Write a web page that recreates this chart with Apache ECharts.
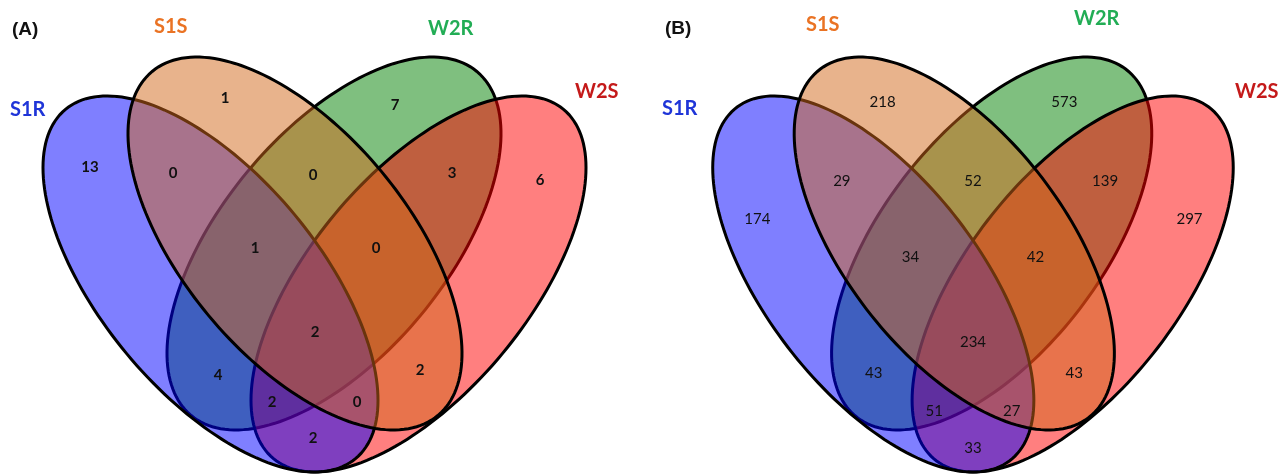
<!DOCTYPE html>
<html>
<head>
<meta charset="utf-8">
<script src="https://cdn.jsdelivr.net/npm/echarts@6/dist/echarts.min.js"></script>
<style>html,body{margin:0;padding:0;background:#fff}#c{width:1285px;height:475px}</style>
</head>
<body>
<div id="c"></div>
<script>
// ---- data ----
const setNames = ['S1R', 'S1S', 'W2R', 'W2S'];
const regions = ['S1R', 'S1S', 'W2R', 'W2S', 'S1R∩S1S', 'S1S∩W2R', 'W2R∩W2S',
  'S1R∩S1S∩W2R', 'S1S∩W2R∩W2S', 'S1R∩S1S∩W2R∩W2S', 'S1R∩W2R', 'S1S∩W2S',
  'S1R∩W2R∩W2S', 'S1R∩S1S∩W2S', 'S1R∩W2S'];
const countsA = [13, 1, 7, 6, 0, 0, 3, 1, 0, 2, 4, 2, 2, 0, 2];
const countsB = [174, 218, 573, 297, 29, 52, 139, 34, 42, 234, 43, 43, 51, 27, 33];
const panelTags = ['(A)', '(B)'];

// ---- layout (panel units) ----
const labelPosA = [[90,167],[225,98],[395,105],[540,180],[173,173],[313,175],[452,173],
  [255,248],[376,248],[315,332],[218,375],[420,370],[272,402],[357,402],[313,438]];
const labelPosB = [[89.6,219],[220.2,102],[409.8,102],[540.4,219],[177.7,181],[314.5,181],[452.3,181],
  [249.2,257],[379.8,257],[314.5,342],[210.9,373],[420.2,373],[274.1,411],[354.9,411],[314.5,448]];
// ellipse geometry: cx, cy, semi-major, semi-minor, angle (deg, clockwise)
const ellipseGeom = {
  S1R: [210.5, 284, 227, 109, 50.3],
  S1S: [295, 243.5, 223.6, 112.5, 50.3],
  W2R: [334, 243.5, 223.6, 112.5, 129.7],
  W2S: [418.5, 284, 227, 109, 129.7]
};
const fills = {
  S1R: 'rgba(0,0,255,0.5)',
  S1S: 'rgba(209,103,25,0.5)',
  W2R: 'rgba(0,128,0,0.5)',
  W2S: 'rgba(255,0,0,0.5)'
};
const drawOrder = ['W2R', 'W2S', 'S1R', 'S1S'];
const labelColors = { S1R: '#1f35d8', S1S: '#ea7324', W2R: '#22ad55', W2S: '#c41a1a' };

const chart = echarts.init(document.getElementById('c'), null, { renderer: 'canvas' });

function ellipseSeries(gi) {
  return {
    type: 'custom', xAxisIndex: gi, yAxisIndex: gi, silent: true,
    data: drawOrder.map((n, i) => [i]),
    renderItem: function (params, api) {
      const name = drawOrder[params.dataIndex];
      const g = ellipseGeom[name];
      const th = g[4] * Math.PI / 180;
      const pts = [];
      for (let k = 0; k < 180; k++) {
        const t = k / 180 * Math.PI * 2;
        const x = g[0] + g[2] * Math.cos(t) * Math.cos(th) - g[3] * Math.sin(t) * Math.sin(th);
        const y = g[1] + g[2] * Math.cos(t) * Math.sin(th) + g[3] * Math.sin(t) * Math.cos(th);
        pts.push(api.coord([x, y]));
      }
      return {
        type: 'polygon', z2: params.dataIndex * 2,
        shape: { points: pts },
        style: { fill: fills[name], stroke: '#000', lineWidth: 3 }
      };
    }
  };
}
function countSeries(gi, pos, counts, bold) {
  return {
    type: 'custom', xAxisIndex: gi, yAxisIndex: gi, silent: true, z: 5,
    data: counts.map((v, i) => [pos[i][0], pos[i][1], v]),
    renderItem: function (params, api) {
      const p = api.coord([api.value(0), api.value(1)]);
      return {
        type: 'text', x: p[0], y: p[1],
        style: {
          text: String(api.value(2)), align: 'center', verticalAlign: 'middle',
          font: (bold ? 'bold ' : '') + '15px Lato', fill: '#111'
        }
      };
    }
  };
}

const tf = 'bold 20px Lato';
function tag(text, x, y, color, font) {
  return { type: 'text', left: x, top: y, style: { text: text, fill: color, font: font || tf } };
}

chart.setOption({
  animation: false,
  grid: [
    { left: 0, top: 0, width: 640, height: 475 },
    { left: 671.5, top: 0, width: 617.6, height: 475 }
  ],
  xAxis: [
    { gridIndex: 0, type: 'value', min: 0, max: 640, show: false },
    { gridIndex: 1, type: 'value', min: 0, max: 640, show: false }
  ],
  yAxis: [
    { gridIndex: 0, type: 'value', min: 0, max: 475, inverse: true, show: false },
    { gridIndex: 1, type: 'value', min: 0, max: 475, inverse: true, show: false }
  ],
  graphic: [
    tag(panelTags[0], 12, 20, '#111', 'bold 19px "Liberation Sans"'),
    tag(setNames[1], 154, 17, labelColors.S1S),
    tag(setNames[2], 428, 19, labelColors.W2R),
    tag(setNames[0], 10, 100, labelColors.S1R),
    tag(setNames[3], 575, 82, labelColors.W2S),
    tag(panelTags[1], 665, 19, '#111', 'bold 19px "Liberation Sans"'),
    tag(setNames[1], 806, 15, labelColors.S1S),
    tag(setNames[2], 1074, 9, labelColors.W2R),
    tag(setNames[0], 662, 99, labelColors.S1R),
    tag(setNames[3], 1235, 82, labelColors.W2S)
  ],
  series: [
    ellipseSeries(0), countSeries(0, labelPosA, countsA, true),
    ellipseSeries(1), countSeries(1, labelPosB, countsB, false)
  ]
});
</script>
</body>
</html>
